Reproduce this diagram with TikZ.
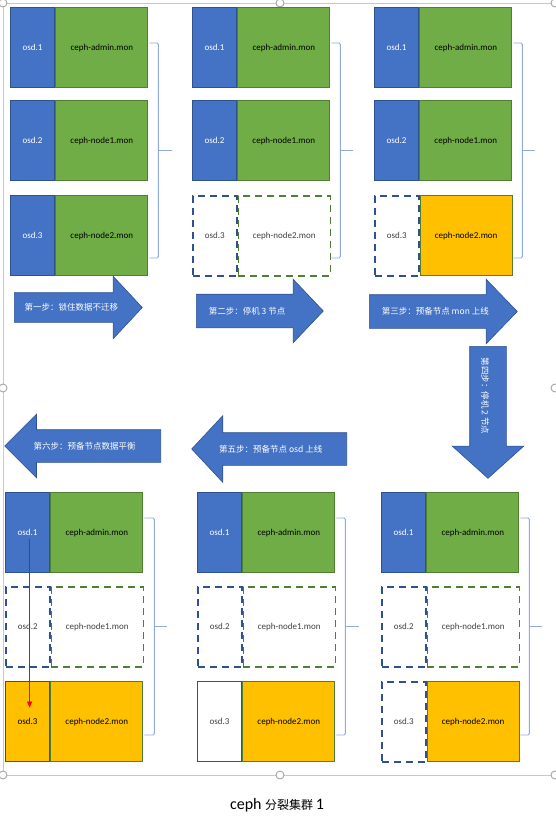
\documentclass[tikz,border=0pt]{standalone}
\usepackage{fontspec}
\setmainfont{Carlito}
\newfontfamily\cjk{Noto Sans CJK SC}
\usetikzlibrary{shapes.arrows,arrows.meta,positioning,calc}
\definecolor{OsdBlue}{RGB}{68,114,196}
\definecolor{OsdEdge}{RGB}{47,82,143}
\definecolor{MonGreen}{RGB}{112,173,71}
\definecolor{MonEdge}{RGB}{80,126,50}
\definecolor{MonGold}{RGB}{255,192,0}
\definecolor{BraceBlue}{RGB}{143,170,220}
\definecolor{FrameGray}{RGB}{200,200,200}

\begin{document}
\begin{tikzpicture}[
  x=1pt, y=-1pt,
  box/.style={rectangle, minimum height=80pt, inner sep=0pt, line width=1.2pt,
              font=\fontsize{9}{10}\selectfont},
  osd/.style={box, minimum width=44pt, fill=OsdBlue, draw=OsdEdge, text=white},
  osdoff/.style={box, minimum width=44pt, draw=OsdEdge, line width=1.5pt, dash pattern=on 7pt off 5pt, text=black!75},
  osdwhite/.style={box, minimum width=44pt, fill=white, draw=OsdEdge, text=black!75},
  osdgold/.style={box, minimum width=44pt, fill=MonGold, draw=OsdEdge, text=black},
  mon/.style={box, minimum width=92pt, fill=MonGreen, draw=MonEdge, text=black},
  monoff/.style={box, minimum width=92pt, draw=MonEdge, line width=1.5pt, dash pattern=on 7pt off 5pt, text=black!75},
  mongold/.style={box, minimum width=92pt, fill=MonGold, draw=MonEdge, text=black},
  brace/.style={draw=BraceBlue, line width=0.9pt, rounded corners=1.5pt},
  steparrow/.style={single arrow, fill=OsdBlue, draw=OsdEdge, line width=0.6pt,
                    inner xsep=0pt, anchor=tail},
  steptext/.style={font=\cjk\fontsize{8.5}{10}\selectfont, text=white, inner sep=0pt},
  move/.style={-{Triangle[length=6pt,width=5pt]}, red, line width=0.7pt},
  frame/.style={draw=FrameGray, line width=1pt},
  handle/.style={draw=gray!70, fill=white, line width=0.9pt}
]
\useasboundingbox (0,0) rectangle (555,822);

% word frame
\draw[frame] (555,3) -- (3,3) -- (3,775) -- (555,775);
\foreach \hx/\hy in {3/3, 280/3, 555/3, 3/388, 555/388, 3/775, 280/775, 555/775}
  \draw[handle] (\hx,\hy) circle [radius=4pt];

% panel 1
\node[osd, anchor=north west] (o11) at (10,7) {osd.1};
\node[mon, right=0pt of o11] (m11) {ceph-admin.mon};
\node[osd, anchor=north west] (o12) at (10,100) {osd.2};
\node[mon, right=0pt of o12] (m12) {ceph-node1.mon};
\node[osd, anchor=north west] (o13) at (10,195) {osd.3};
\node[mon, right=0pt of o13] (m13) {ceph-node2.mon};
\draw[brace] ($(m11.north east)+(1,36)$) -- ++(9,0) -- ++(0,215) -- ++(-9,0);
\draw[brace] ($(m11.north east)+(10,143.5)$) -- ++(14,0);

% panel 2
\node[osd, anchor=north west] (o21) at (192,7) {osd.1};
\node[mon, right=0pt of o21] (m21) {ceph-admin.mon};
\node[osd, anchor=north west] (o22) at (192,100) {osd.2};
\node[mon, right=0pt of o22] (m22) {ceph-node1.mon};
\node[osdoff, anchor=north west] (o23) at (192,195) {osd.3};
\node[monoff, right=0pt of o23] (m23) {ceph-node2.mon};
\draw[brace] ($(m21.north east)+(1,36)$) -- ++(9,0) -- ++(0,215) -- ++(-9,0);
\draw[brace] ($(m21.north east)+(10,143.5)$) -- ++(13,0);

% panel 3
\node[osd, anchor=north west] (o31) at (374,7) {osd.1};
\node[mon, right=0pt of o31] (m31) {ceph-admin.mon};
\node[osd, anchor=north west] (o32) at (374,100) {osd.2};
\node[mon, right=0pt of o32] (m32) {ceph-node1.mon};
\node[osdoff, anchor=north west] (o33) at (374,195) {osd.3};
\node[mongold, right=0pt of o33] (m33) {ceph-node2.mon};
\draw[brace] ($(m31.north east)+(1,36)$) -- ++(9,0) -- ++(0,215) -- ++(-9,0);
\draw[brace] ($(m31.north east)+(10,143.5)$) -- ++(13,0);

% panel 4
\node[osd, anchor=north west] (o41) at (381,492) {osd.1};
\node[mon, right=0pt of o41] (m41) {ceph-admin.mon};
\node[osdoff, anchor=north west] (o42) at (381,586) {osd.2};
\node[monoff, right=0pt of o42] (m42) {ceph-node1.mon};
\node[osdoff, anchor=north west] (o43) at (381,681) {osd.3};
\node[mongold, right=0pt of o43] (m43) {ceph-node2.mon};
\draw[brace] ($(m41.north east)+(1,26)$) -- ++(9,0) -- ++(0,217) -- ++(-9,0);
\draw[brace] ($(m41.north east)+(10,134.5)$) -- ++(13,0);

% panel 5
\node[osd, anchor=north west] (o51) at (197,492) {osd.1};
\node[mon, right=0pt of o51] (m51) {ceph-admin.mon};
\node[osdoff, anchor=north west] (o52) at (197,586) {osd.2};
\node[monoff, right=0pt of o52] (m52) {ceph-node1.mon};
\node[osdwhite, anchor=north west] (o53) at (197,681) {osd.3};
\node[mongold, right=0pt of o53] (m53) {ceph-node2.mon};
\draw[brace] ($(m51.north east)+(1,26)$) -- ++(9,0) -- ++(0,217) -- ++(-9,0);
\draw[brace] ($(m51.north east)+(10,134.5)$) -- ++(14,0);

% panel 6
\node[osd, anchor=north west] (o61) at (5,492) {osd.1};
\node[mon, right=0pt of o61] (m61) {ceph-admin.mon};
\node[osdoff, anchor=north west] (o62) at (5,586) {osd.2};
\node[monoff, right=0pt of o62] (m62) {ceph-node1.mon};
\node[osdgold, anchor=north west] (o63) at (5,681) {osd.3};
\node[mongold, right=0pt of o63] (m63) {ceph-node2.mon};
\draw[brace] ($(m61.north east)+(1,26)$) -- ++(10,0) -- ++(0,217) -- ++(-10,0);
\draw[brace] ($(m61.north east)+(11,134.5)$) -- ++(13,0);
\draw[move] ([xshift=2pt,yshift=-6pt]o61.center) -- ([xshift=2pt,yshift=14pt]o63.center);

% step arrows
\node[steparrow, minimum height=128pt, inner ysep=14.5pt, single arrow head extend=16.5pt,
      single arrow tip angle=94] (a1) at (14,307.5) {};
\node[steparrow, minimum height=127pt, inner ysep=16.5pt, single arrow head extend=15pt,
      single arrow tip angle=93] (a2) at (196,311) {};
\node[steparrow, minimum height=148pt, inner ysep=16.5pt, single arrow head extend=15.5pt,
      single arrow tip angle=92] (a3) at (369,311.5) {};
\node[steparrow, minimum height=132pt, inner ysep=18pt, single arrow head extend=17.5pt,
      single arrow tip angle=96, rotate=-90] (a4) at (488,346) {};
\node[steparrow, minimum height=155pt, inner ysep=16pt, single arrow head extend=17pt,
      single arrow tip angle=94, shape border rotate=180] (a5) at (347,449) {};
\node[steparrow, minimum height=156pt, inner ysep=16pt, single arrow head extend=15.5pt,
      single arrow tip angle=90, shape border rotate=180] (a6) at (161,446) {};

\node[steptext] (s1) at ($(a1.tail)!0.445!(a1.tip)$) {第一步：锁住数据不迁移};
\node[steptext] (s2) at ($(a2.tail)!0.40!(a2.tip)$) {第二步：停机 3 节点};
\node[steptext] (s3) at ($(a3.tail)!0.446!(a3.tip)$) {第三步：预备节点 mon 上线};
\node[steptext, rotate=-90] (s4) at ($(a4.tail)!0.375!(a4.tip)+(-3,0)$) {第四步：停机 2 节点};
\node[steptext] (s5) at ($(a5.tail)!0.49!(a5.tip)$) {第五步：预备节点 osd 上线};
\node[steptext] (s6) at ($(a6.tail)!0.487!(a6.tip)$) {第六步：预备节点数据平衡};

% caption
\node[inner sep=0pt] (cap) at (277,805)
  {\fontsize{16}{18}\selectfont ceph \cjk\fontsize{12}{14}\selectfont 分裂集群 \fontsize{16}{18}\selectfont\rmfamily 1};
\end{tikzpicture}
\end{document}
